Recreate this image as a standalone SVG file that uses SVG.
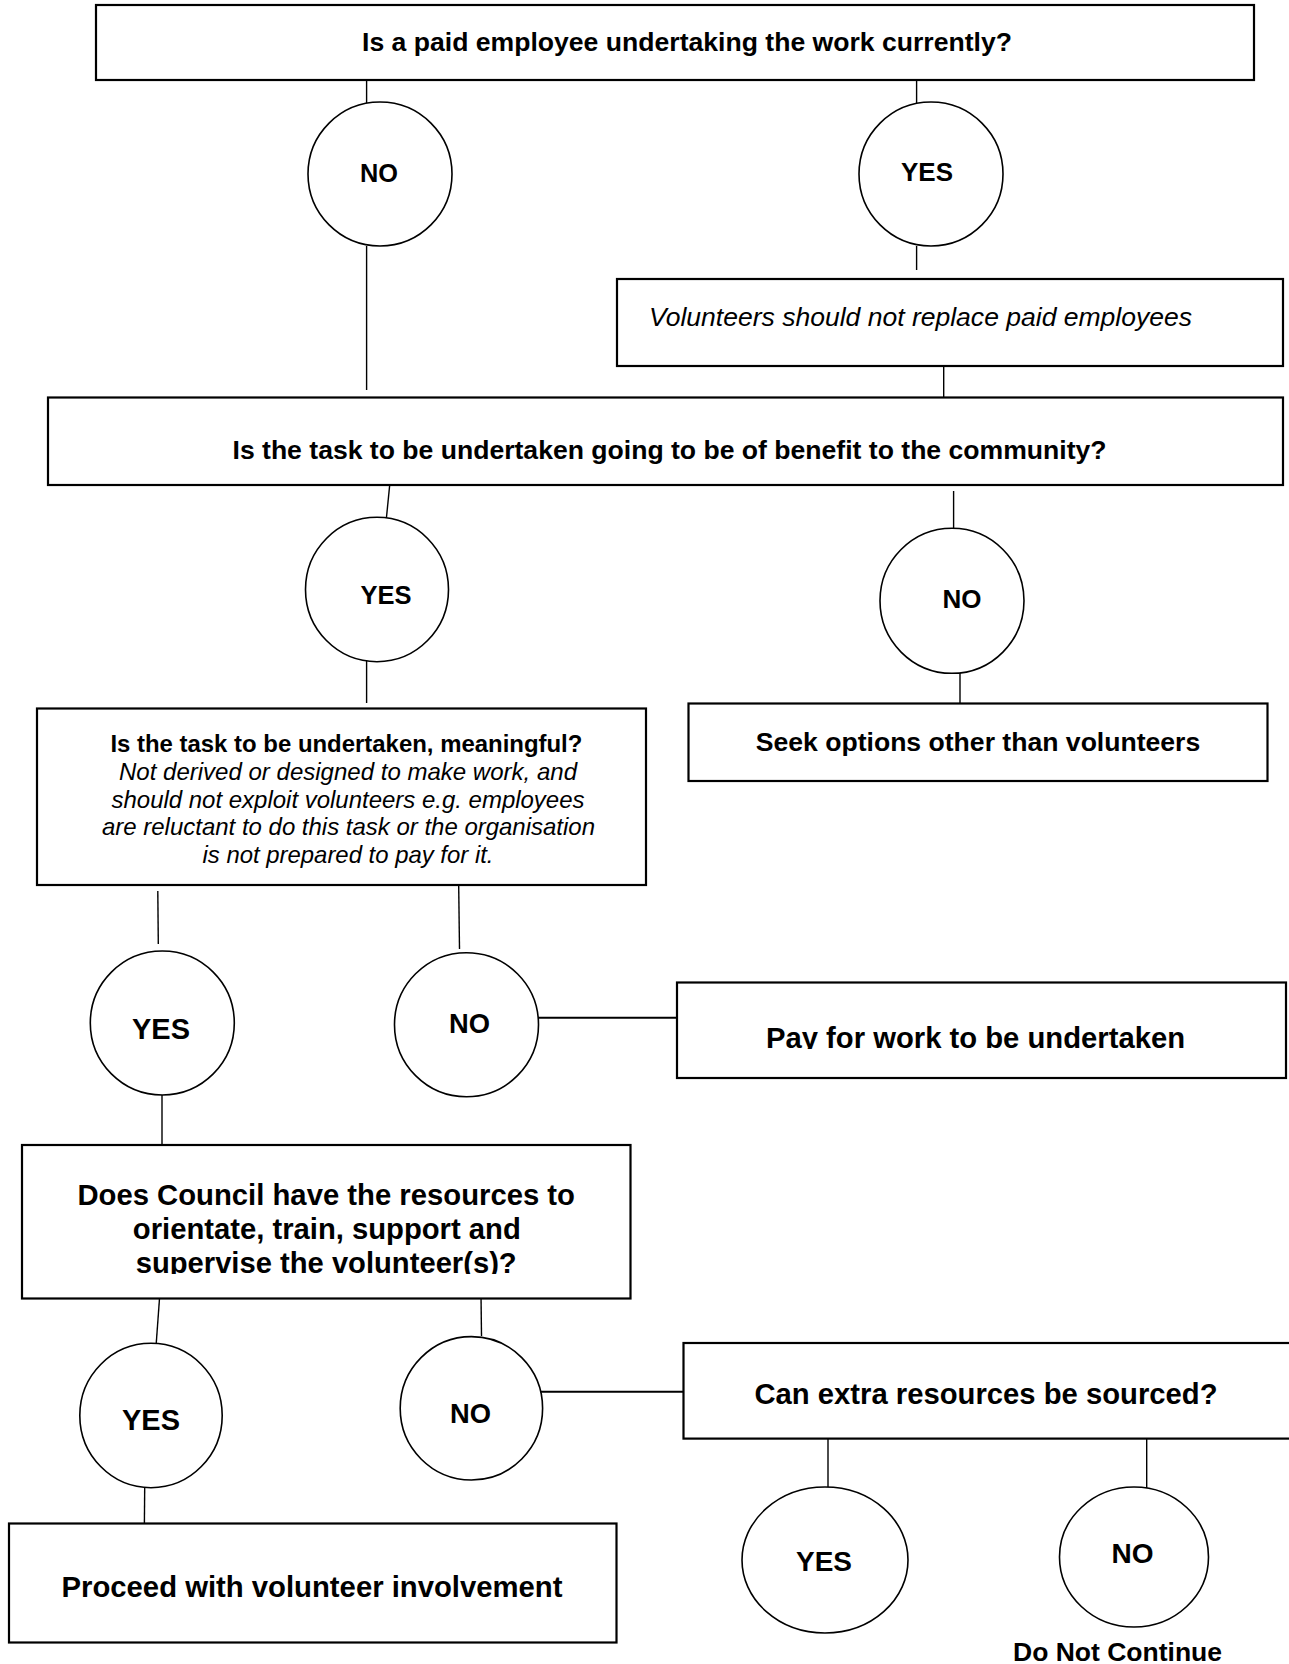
<svg xmlns="http://www.w3.org/2000/svg" width="1289" height="1664" viewBox="0 0 1289 1664">
<defs>
<style>
.box{fill:#fff;stroke:#000;stroke-width:2.2}
.oval{fill:#fff;stroke:#000;stroke-width:1.6}
.con line{stroke:#000;stroke-width:1.4}
text{font-family:"Liberation Sans",Arial,Helvetica,sans-serif;fill:#000}
.b{font-weight:bold}
.c{text-anchor:middle}
.i{font-style:italic}
.s24{font-size:24px}
.s26{font-size:26px}
.s265{font-size:26.5px}
.s275{font-size:27.5px}
.s28{font-size:28px}
.s29{font-size:29px}
</style>
<clipPath id="clipPay"><rect x="676" y="980" width="613" height="69"/></clipPath>
<clipPath id="clipCouncil"><rect x="20" y="1140" width="612" height="134"/></clipPath>
</defs>
<rect width="1289" height="1664" fill="#fff"/>

<g id="connectors" class="con">
<line x1="366.6" y1="80" x2="366.6" y2="103"/>
<line x1="366.6" y1="246" x2="366.6" y2="390"/>
<line x1="916.6" y1="77" x2="916.6" y2="103"/>
<line x1="916.6" y1="246" x2="916.6" y2="270"/>
<line x1="943.7" y1="366" x2="943.7" y2="398"/>
<line x1="389.6" y1="486" x2="386.4" y2="518"/>
<line x1="366.6" y1="653" x2="366.6" y2="703"/>
<line x1="953.6" y1="491" x2="953.6" y2="529"/>
<line x1="960" y1="673" x2="960" y2="704"/>
<line x1="157.8" y1="891" x2="158.3" y2="944"/>
<line x1="458.7" y1="886" x2="459.5" y2="949"/>
<line x1="538" y1="1017.7" x2="677" y2="1017.7" style="stroke-width:2"/>
<line x1="162" y1="1095" x2="162" y2="1144"/>
<line x1="159.5" y1="1298.5" x2="156.2" y2="1344"/>
<line x1="481" y1="1295" x2="481.5" y2="1336"/>
<line x1="538.4" y1="1391.7" x2="684" y2="1391.7" style="stroke-width:2"/>
<line x1="144.7" y1="1487" x2="144.4" y2="1523"/>
<line x1="828" y1="1438.6" x2="828" y2="1487"/>
<line x1="1146.7" y1="1438.6" x2="1146.7" y2="1488"/>
</g>

<g id="q-paid">
<rect class="box" x="96" y="5" width="1158" height="75"/>
<text class="b c s265" x="687" y="51" textLength="650" lengthAdjust="spacingAndGlyphs">Is a paid employee undertaking the work currently?</text>
</g>

<g id="no-1">
<ellipse class="oval" cx="380" cy="174" rx="72" ry="72"/>
<text class="b c s26" x="379" y="182" textLength="38" lengthAdjust="spacingAndGlyphs">NO</text>
</g>

<g id="yes-1">
<ellipse class="oval" cx="931" cy="174" rx="72" ry="72"/>
<text class="b c s26" x="927" y="181" textLength="52" lengthAdjust="spacingAndGlyphs">YES</text>
</g>

<g id="note-volunteers">
<rect class="box" x="617" y="279" width="666" height="87"/>
<text class="i s265" x="649" y="326" textLength="543" lengthAdjust="spacingAndGlyphs">Volunteers should not replace paid employees</text>
</g>

<g id="q-benefit">
<rect class="box" x="48" y="397.5" width="1235" height="87.5"/>
<text class="b c s265" x="669.5" y="459" textLength="874" lengthAdjust="spacingAndGlyphs">Is the task to be undertaken going to be of benefit to the community?</text>
</g>

<g id="yes-2">
<ellipse class="oval" cx="377" cy="589.5" rx="71.5" ry="72.2"/>
<text class="b c s26" x="386" y="604" textLength="51" lengthAdjust="spacingAndGlyphs">YES</text>
</g>

<g id="no-2">
<ellipse class="oval" cx="952" cy="600.8" rx="72" ry="72.5"/>
<text class="b c s26" x="962" y="608" textLength="39" lengthAdjust="spacingAndGlyphs">NO</text>
</g>

<g id="q-meaningful">
<rect class="box" x="37" y="708.5" width="609" height="176.5"/>
<text class="b s24 c" x="346.4" y="752" textLength="472" lengthAdjust="spacingAndGlyphs">Is the task to be undertaken, meaningful?</text>
<text class="i s24 c" x="348" y="780" textLength="458" lengthAdjust="spacingAndGlyphs">Not derived or designed to make work, and</text>
<text class="i s24 c" x="348" y="807.5" textLength="473" lengthAdjust="spacingAndGlyphs">should not exploit volunteers e.g. employees</text>
<text class="i s24 c" x="348.5" y="835" textLength="493" lengthAdjust="spacingAndGlyphs">are reluctant to do this task or the organisation</text>
<text class="i s24 c" x="348" y="862.5" textLength="291" lengthAdjust="spacingAndGlyphs">is not prepared to pay for it.</text>
</g>

<g id="seek-options">
<rect class="box" x="688.5" y="703.5" width="579" height="77.5"/>
<text class="b c s265" x="978" y="751" textLength="444.5" lengthAdjust="spacingAndGlyphs">Seek options other than volunteers</text>
</g>

<g id="yes-3">
<ellipse class="oval" cx="162.3" cy="1023" rx="72" ry="72"/>
<text class="b c s29" x="161" y="1039" textLength="58" lengthAdjust="spacingAndGlyphs">YES</text>
</g>

<g id="no-3">
<ellipse class="oval" cx="466.5" cy="1024.7" rx="72" ry="72"/>
<text class="b c s275" x="469.4" y="1033" textLength="41" lengthAdjust="spacingAndGlyphs">NO</text>
</g>

<g id="pay-work">
<rect class="box" x="677" y="982.5" width="609" height="95.5"/>
<text class="b s29" x="766" y="1048" textLength="419" lengthAdjust="spacingAndGlyphs" clip-path="url(#clipPay)">Pay for work to be undertaken</text>
</g>

<g id="q-resources">
<rect class="box" x="22" y="1145" width="608.5" height="153.5"/>
<g clip-path="url(#clipCouncil)">
<text class="b c s29" x="326.2" y="1205" textLength="497.6" lengthAdjust="spacingAndGlyphs">Does Council have the resources to</text>
<text class="b c s29" x="326.8" y="1239" textLength="388" lengthAdjust="spacingAndGlyphs">orientate, train, support and</text>
<text class="b c s29" x="326.2" y="1273" textLength="381" lengthAdjust="spacingAndGlyphs">supervise the volunteer(s)?</text>
</g>
</g>

<g id="yes-4">
<ellipse class="oval" cx="151" cy="1415.5" rx="71.2" ry="72.2"/>
<text class="b c s29" x="151" y="1430" textLength="58" lengthAdjust="spacingAndGlyphs">YES</text>
</g>

<g id="no-4">
<ellipse class="oval" cx="471.4" cy="1408.3" rx="71.2" ry="71.7"/>
<text class="b c s275" x="470.5" y="1423" textLength="41" lengthAdjust="spacingAndGlyphs">NO</text>
</g>

<g id="q-extra">
<rect class="box" x="683.5" y="1343" width="610" height="95.6"/>
<text class="b c s29" x="986" y="1404" textLength="463" lengthAdjust="spacingAndGlyphs">Can extra resources be sourced?</text>
</g>

<g id="proceed">
<rect class="box" x="9" y="1523.5" width="607.5" height="119"/>
<text class="b c s29" x="312" y="1597" textLength="501" lengthAdjust="spacingAndGlyphs">Proceed with volunteer involvement</text>
</g>

<g id="yes-5">
<ellipse class="oval" cx="825" cy="1560" rx="83" ry="73"/>
<text class="b c s28" x="824" y="1571" textLength="56" lengthAdjust="spacingAndGlyphs">YES</text>
</g>

<g id="no-5">
<ellipse class="oval" cx="1134" cy="1557" rx="74.5" ry="70"/>
<text class="b c s28" x="1132.5" y="1563" textLength="42" lengthAdjust="spacingAndGlyphs">NO</text>
<text class="b c s265" x="1117.5" y="1661" textLength="209" lengthAdjust="spacingAndGlyphs">Do Not Continue</text>
</g>
</svg>
